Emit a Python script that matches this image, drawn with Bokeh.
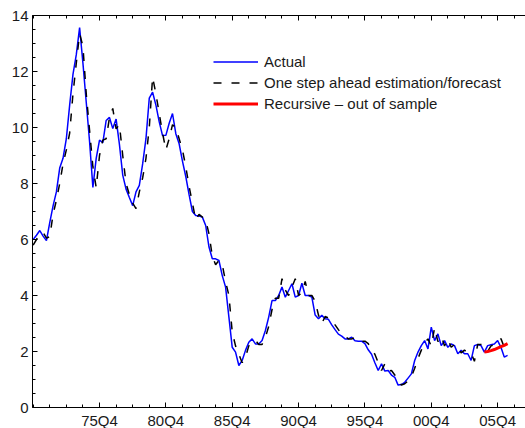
from bokeh.plotting import figure
from bokeh.models import FixedTicker, LinearAxis, Range1d, Legend, LegendItem
from bokeh.embed import file_html
from bokeh.resources import INLINE

# ---- data -------------------------------------------------------------
start_year, start_q = 1970, 4   # first observation 1970Q4

actual = [6.0, 6.15, 6.32, 6.12, 5.96, 6.6, 7.2, 7.7, 8.55, 8.9,
          9.6, 10.8, 11.9, 12.6, 13.57, 12.3, 10.9, 9.5, 7.86, 8.9,
          9.55, 9.46, 10.25, 10.36, 9.96, 10.3, 9.4, 8.3, 7.8, 7.5,
          7.21, 7.7, 7.93, 8.7, 9.6, 11.05, 11.26, 10.8, 10.2, 9.71,
          9.72, 10.15, 10.5, 9.78, 9.42, 8.8, 8.25, 7.6, 7.0, 6.86,
          6.84, 6.8, 6.5, 5.73, 5.31, 5.31, 5.25, 4.71, 4.3, 3.23,
          2.15, 1.98, 1.5, 1.68, 2.04, 2.33, 2.45, 2.27, 2.27, 2.39,
          2.75, 3.23, 3.82, 3.82, 4.0, 4.3, 3.94, 4.18, 4.42, 3.94,
          4.0, 4.44, 4.0, 4.0, 3.94, 3.3, 3.17, 3.29, 3.17, 3.15,
          2.95, 2.78, 2.62, 2.55, 2.45, 2.45, 2.51, 2.38, 2.37, 2.37,
          2.28, 2.06, 1.9, 1.6, 1.32, 1.56, 1.3, 1.32, 1.16, 1.08,
          0.8, 0.82, 0.9, 1.05, 1.2, 1.68, 1.98, 2.21, 2.39, 2.09,
          2.87, 2.39, 2.63, 2.21, 2.39, 2.15, 2.27, 2.21, 1.92, 2.04,
          1.92, 1.92, 1.68, 2.21, 2.25, 2.21, 1.98, 2.21, 2.24, 2.27,
          2.39, 2.15, 1.8, 1.86]

one_step = [5.8, 6.0, 6.2, 6.25, 6.05, 6.1, 6.9, 7.4, 8.0, 8.7,
            9.2, 9.8, 11.2, 12.3, 13.35, 12.9, 11.2, 9.9, 8.6, 7.85,
            9.0, 9.55, 9.6, 10.35, 10.68, 9.95, 10.1, 9.0, 8.0, 7.6,
            7.3, 7.1, 7.7, 8.2, 8.9, 10.0, 11.8, 11.2, 10.5, 9.8,
            9.2, 9.6, 10.1, 10.0, 9.6, 9.2, 8.6, 7.9, 7.3, 6.7,
            6.9, 6.8, 6.7, 6.2, 5.4, 5.1, 5.25, 5.1, 4.5, 4.0,
            2.7, 2.2, 1.9, 1.6, 1.8, 2.2, 2.35, 2.4, 2.25, 2.25,
            2.5, 2.9, 3.5, 3.9, 3.9, 4.6, 4.2, 4.0, 4.3, 4.6,
            4.0, 4.1, 4.5, 4.0, 4.0, 3.8, 3.3, 3.0, 3.25, 3.2,
            3.15, 2.95, 2.78, 2.62, 2.55, 2.45, 2.45, 2.5, 2.38, 2.37,
            2.37, 2.28, 2.06, 1.9, 1.6, 1.32, 1.56, 1.3, 1.32, 1.16,
            1.0, 0.8, 0.85, 0.95, 1.1, 1.4, 1.75, 2.05, 2.3, 2.45,
            2.2, 2.85, 2.35, 2.55, 2.2, 2.45, 2.15, 2.25, 2.2, 1.95,
            2.05, 1.95, 1.95, 1.65, 2.25, 2.25, 2.2, 2.0, 2.2, 2.25,
            2.3, 2.46, 2.15, 1.9]

rec_start_year, rec_start_q = 2004, 4
recursive = [1.98, 2.0, 2.03, 2.07, 2.12, 2.17, 2.22, 2.28]

tick_labels = ["75Q4", "80Q4", "85Q4", "90Q4", "95Q4", "00Q4", "05Q4"]
y_ticks = [0, 2, 4, 6, 8, 10, 12, 14]

# ---- helpers ----------------------------------------------------------
def qpos(year, q, n):
    base = year + (q - 1) / 4.0
    return [base + 0.25 * k for k in range(n)]

def label_pos(lbl):
    yy = int(lbl[:2])
    year = 2000 + yy if yy < 50 else 1900 + yy
    return year + (int(lbl[-1]) - 1) / 4.0

X0, X1 = 1970.7, 2007.85
Y0, Y1 = 0, 14
Y_PAD = 0.75            # room under the zero line for the date labels

t_act = qpos(start_year, start_q, len(actual))
t_rec = qpos(rec_start_year, rec_start_q, len(recursive))

major_x = [label_pos(l) for l in tick_labels]
v = major_x[0]
while v - 1.25 > X0:
    v -= 1.25
minor_x = []
while v < X1:
    minor_x.append(v)
    v += 1.25
minor_y = [k * 0.5 for k in range(29)]

FONT = "Liberation Sans"
TXT = "#1a1a1a"

p = figure(width=525, height=428, output_backend="svg", toolbar_location=None,
           x_range=Range1d(X0, X1), y_range=Range1d(Y0 - Y_PAD, Y1),
           min_border_left=32, min_border_right=0, min_border_top=15,
           min_border_bottom=0, x_axis_type=None, y_axis_type=None)
p.outline_line_color = None
p.background_fill_color = "white"
p.border_fill_color = "white"

xticker = FixedTicker(ticks=major_x, minor_ticks=minor_x)
yticker = FixedTicker(ticks=y_ticks, minor_ticks=minor_y)

def style_axis(ax, labels=True):
    ax.axis_line_color = "black"
    ax.axis_line_width = 1
    ax.major_tick_in = 5
    ax.major_tick_out = 0
    ax.minor_tick_in = 3
    ax.minor_tick_out = 0
    ax.major_tick_line_color = "black"
    ax.minor_tick_line_color = "black"
    ax.major_label_text_font = FONT
    ax.major_label_text_font_size = "15px" if labels else "0px"
    ax.major_label_text_color = TXT
    ax.major_label_standoff = 4 if labels else 0

xb = LinearAxis(ticker=xticker, fixed_location=Y0,
                major_label_overrides={pos: lbl for pos, lbl in zip(major_x, tick_labels)})
style_axis(xb)
xb.major_label_standoff = 4
p.add_layout(xb, "below")

xt = LinearAxis(ticker=xticker, major_label_overrides={pos: "" for pos in major_x})
style_axis(xt, labels=False)
p.add_layout(xt, "above")

yl = LinearAxis(ticker=yticker, bounds=(Y0, Y1))
style_axis(yl)
p.add_layout(yl, "left")

r_act = p.line(t_act, actual, line_color="#0000ff", line_width=1.5)
r_one = p.line(t_act, one_step, line_color="black", line_width=1.5, line_dash="8 10")
r_rec = p.line(t_rec, recursive, line_color="#ff0000", line_width=3)

legend = Legend(items=[LegendItem(label="Actual", renderers=[r_act]),
                       LegendItem(label="One step ahead estimation/forecast", renderers=[r_one]),
                       LegendItem(label="Recursive \u2013 out of sample", renderers=[r_rec])],
                location=(181, 314), border_line_color=None, background_fill_alpha=0,
                padding=0, margin=0, spacing=0, glyph_width=45, glyph_height=21,
                label_height=21, label_standoff=6, label_text_font=FONT,
                label_text_font_size="15px", label_text_color=TXT)
p.add_layout(legend)

open("out.html", "w").write(file_html(p, INLINE))
